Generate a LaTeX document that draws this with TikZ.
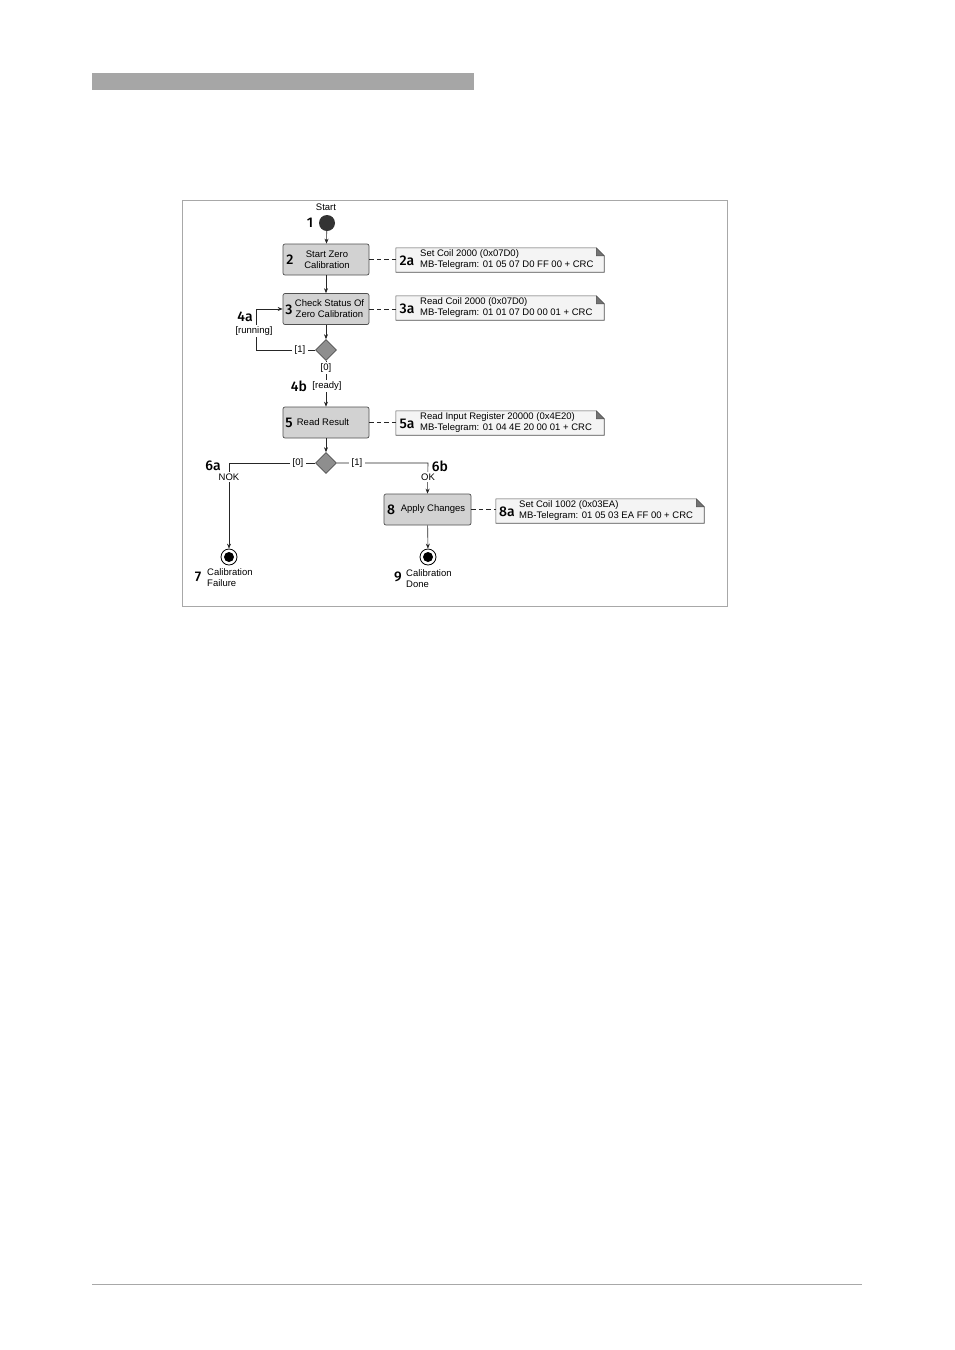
\documentclass[tikz,border=0pt]{standalone}
\usepackage{fontspec}
\setmainfont{Liberation Sans}
\newfontfamily\numfont{Fira Sans Medium}
\usetikzlibrary{arrows.meta,shapes.geometric}
\definecolor{boxfill}{HTML}{D2D2D2}
\definecolor{boxline}{HTML}{505050}
\definecolor{diafill}{HTML}{8E8E8E}
\definecolor{notefill}{HTML}{F4F4F4}
\definecolor{framec}{HTML}{A8A8A8}
\definecolor{barc}{HTML}{A6A6A6}
\tikzset{
  stepbox/.style={draw=boxline, fill=boxfill, rounded corners=2pt, minimum width=86pt, minimum height=31pt, line width=0.7pt, inner sep=0},
  num/.style={font=\numfont\fontsize{14}{14}\selectfont, inner sep=0},
  txt/.style={font=\fontsize{9.5}{11.5}\selectfont, inner sep=0, align=center},
  ltxt/.style={font=\fontsize{9.5}{11.5}\selectfont, inner sep=0, align=left, anchor=west},
  lbl/.style={font=\fontsize{9.5}{11}\selectfont, inner xsep=3pt, inner ysep=1.5pt, fill=white},
  arr/.style={-{Stealth[length=5pt,width=4pt]}, line width=0.6pt, black!85},
  plain/.style={line width=0.6pt, black!85},
  dashline/.style={line width=0.6pt, black!85, dash pattern=on 4.5pt off 3pt},
  notebox/.style={minimum width=208pt, minimum height=24pt, inner sep=0},
  notepath/.style={draw=boxline, fill=notefill, line width=0.6pt},
  dia/.style={diamond, aspect=1, draw=boxline, fill=diafill, minimum width=21pt, minimum height=21pt, inner sep=0, line width=0.6pt},
  startc/.style={circle, fill=black!80, minimum size=16pt, inner sep=0},
  endc/.style={circle, draw=black, fill=white, line width=0.8pt, minimum size=16pt, inner sep=0},
}
\newcommand{\drawnote}[1]{%
  \path[notepath] (#1.south west) -- (#1.north west) -- ([xshift=-8pt]#1.north east) -- ([yshift=-8pt]#1.north east) -- (#1.south east) -- cycle;
  \path[fill=black!55, draw=boxline, line width=0.4pt] ([xshift=-8pt]#1.north east) -- ([xshift=-8pt,yshift=-8pt]#1.north east) -- ([yshift=-8pt]#1.north east) -- cycle;}
\begin{document}
\begin{tikzpicture}[x=1pt,y=-1pt]
\useasboundingbox (0,0) rectangle (954,1350);
\fill[barc] (92,73) rectangle (474,90);
\draw[framec, line width=0.8pt] (92,1284) -- (862,1284);
\draw[framec, line width=0.8pt] (182,200) rectangle (727,606);

% start
\node[txt] (startlbl) at (326,207) {Start};
\node[startc] (start) at (327,223) {};
\node[num] (n1) at (310,223) {1};

% box 2
\node[stepbox] (b2) at (326,259.5) {};
\node[num] (n2) at (290,260) {2};
\node[txt] (t2) at (327,259.5) {Start Zero\\Calibration};
\draw[arr] (start) -- (b2);

% box 3
\node[stepbox] (b3) at (326,309) {};
\node[num] (n3) at (289,309.5) {3};
\node[txt] (t3) at (329.5,308.5) {Check Status Of\\Zero Calibration};
\draw[arr] (b2) -- (b3);

% diamond 1
\node[dia] (d1) at (326,350) {};
\draw[arr] (b3) -- (d1);

% loop back
\coordinate (c4a) at (256,350);
\draw[arr] (d1.west) -- (c4a) |- (b3.west);
\node[lbl] (l1) at (300,350) {[1]};
\node[num] (n4a) at (245,317) {4a};
\node[lbl, inner xsep=1pt] (trun) at (254,331) {[running]};

% box 5
\node[stepbox] (b5) at (326,422.5) {};
\node[num] (n5) at (289,423) {5};
\node[txt] (t5) at (323,422.5) {Read Result};
\draw[arr] (d1.south) -- (b5.north);
\node[lbl] (l0) at (326,368) {[0]};
\node[lbl] (lready) at (327,386) {[ready]};
\node[num] (n4b) at (299,386) {4b};

% diamond 2
\node[dia] (d2) at (326,463) {};
\draw[arr] (b5) -- (d2);

% end nodes
\node[endc] (e7) at (229,557) {};
\fill[black] (e7.center) circle (5);
\node[endc] (e9) at (428,557) {};
\fill[black] (e9.center) circle (5);

% box 8
\node[stepbox, minimum width=87pt] (b8) at (427.5,509.5) {};
\node[num] (n8) at (391,510) {8};
\node[txt] (t8) at (433,509) {Apply Changes};

% branches
\coordinate (c6a) at (229,463);
\coordinate (c6b) at (428,463);
\draw[arr] (d2.west) -- (c6a) -- (e7.north);
\draw[arr] (d2.east) -- (c6b) -- (b8.north);
\node[lbl] (l0b) at (298,463) {[0]};
\node[lbl] (l1b) at (357,463) {[1]};
\node[lbl, inner xsep=1pt] (lnok) at (229,477) {NOK};
\node[lbl, inner xsep=1pt] (lok) at (428,477) {OK};
\node[num] (n6a) at (213,466) {6a};
\node[num] (n6b) at (440,466) {6b};
\draw[arr] (b8) -- (e9);

% end labels
\node[num] (n7) at (198,577) {7};
\node[ltxt] (t7) at (207,577.5) {Calibration\\Failure};
\node[num] (n9) at (398,577) {9};
\node[ltxt] (t9) at (406,578.5) {Calibration\\Done};

% notes
\node[notebox] (m2) at (500,260) {};
\drawnote{m2}
\node[num] (n2a) at (407,260.5) {2a};
\node[ltxt] (t2a) at (420,259.5) {Set Coil 2000 (0x07D0)\\MB-Telegram: 01 05 07 D0 FF 00 + CRC};
\draw[dashline] (b2.east) -- (b2.east -| m2.west);

\node[notebox] (m3) at (500,308) {};
\drawnote{m3}
\node[num] (n3a) at (407,308.5) {3a};
\node[ltxt] (t3a) at (420,307.5) {Read Coil 2000 (0x07D0)\\MB-Telegram: 01 01 07 D0 00 01 + CRC};
\draw[dashline] (b3.east) -- (b3.east -| m3.west);

\node[notebox] (m5) at (500,423) {};
\drawnote{m5}
\node[num] (n5a) at (407,423.5) {5a};
\node[ltxt] (t5a) at (420,422.5) {Read Input Register 20000 (0x4E20)\\MB-Telegram: 01 04 4E 20 00 01 + CRC};
\draw[dashline] (b5.east) -- (b5.east -| m5.west);

\node[notebox] (m8) at (600,511) {};
\drawnote{m8}
\node[num] (n8a) at (507,511.5) {8a};
\node[ltxt] (t8a) at (519,510.5) {Set Coil 1002 (0x03EA)\\MB-Telegram: 01 05 03 EA FF 00 + CRC};
\draw[dashline] (b8.east) -- (b8.east -| m8.west);
\end{tikzpicture}
\end{document}
